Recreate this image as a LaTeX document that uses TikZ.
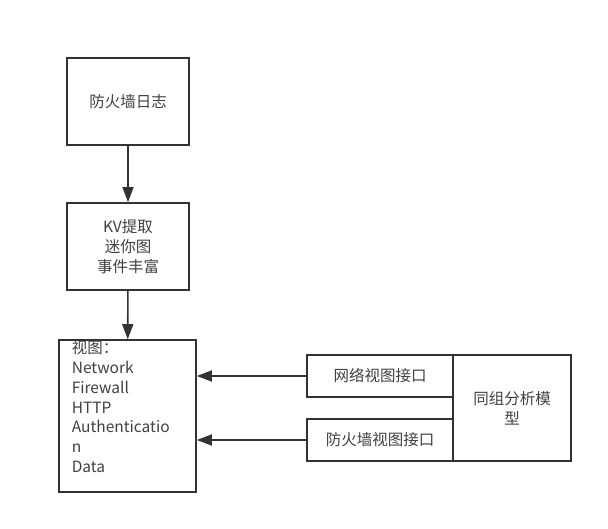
\documentclass[tikz,border=0pt]{standalone}
\usepackage{fontspec}
\setmainfont{Noto Sans CJK SC}
\usepackage{tikz}
\usetikzlibrary{arrows.meta, positioning}
\usepackage{xcolor}
\definecolor{cLINE}{HTML}{333333}

\begin{document}
\begin{tikzpicture}[
  x=1pt, y=-1pt,
  box/.style={draw=cLINE, line width=1.6pt, inner sep=0pt, align=center,
    font=\fontsize{15.5}{19.8}\selectfont, text=black!75},
  arr/.style={draw=cLINE, line width=1.6pt, -{Triangle[width=11pt,length=15pt]}}
]
\useasboundingbox (0,0) rectangle (608,529);

\node[box, minimum width=122pt, minimum height=87pt] (log) at (128,101.5) {防火墙日志};
\node[box, minimum width=122pt, minimum height=87pt] (kv) at (128,246.5) {KV提取\\迷你图\\事件丰富};
\node[box, minimum width=137pt, minimum height=152pt] (view) at (127.5,416) {};
\node[box, draw=none, align=left, anchor=north west] (viewtxt) at (71,340)
  {视图：\\Network\\Firewall\\HTTP\\Authenticatio\\n\\Data};

\node[box, minimum width=118pt, minimum height=106pt] (model) at (512,408) {同组分析模\\型};
\node[box, minimum width=146pt, minimum height=42pt] (net) at (380,376) {网络视图接口};
\node[box, minimum width=146pt, minimum height=42pt] (fw) at (380,440) {防火墙视图接口};

\draw[arr] (log) -- (kv);
\draw[arr] (kv) -- (view);
\draw[arr] (net.west) -- (view.east |- net.west);
\draw[arr] (fw.west) -- (view.east |- fw.west);
\end{tikzpicture}
\end{document}
